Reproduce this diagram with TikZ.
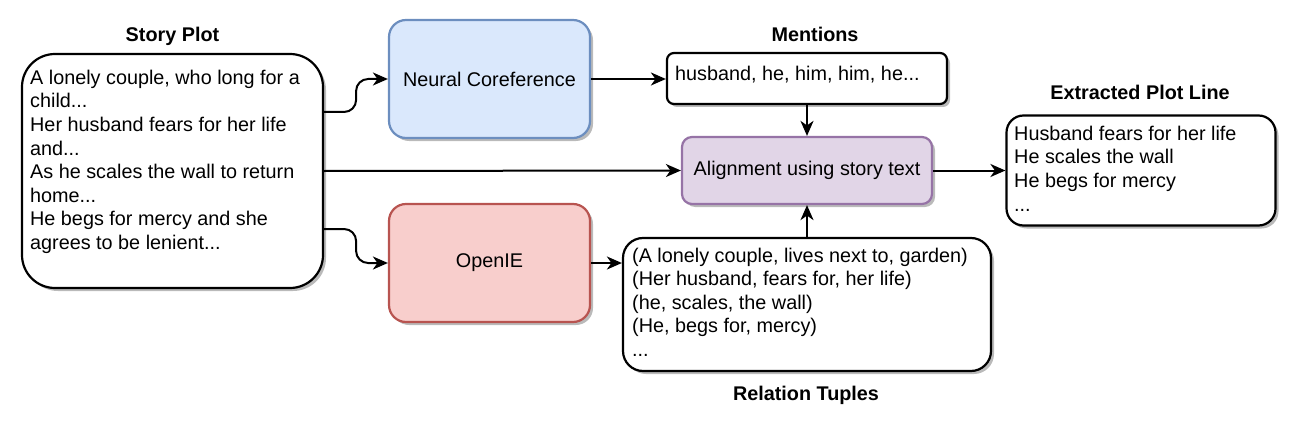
\documentclass[tikz,border=0pt]{standalone}
\usepackage{fontspec}
\setmainfont{Liberation Sans}
\usepackage{tikz}
\usetikzlibrary{arrows.meta,positioning,calc,shadows}
\definecolor{corefill}{HTML}{DAE8FC}
\definecolor{coreline}{HTML}{6C8EBF}
\definecolor{iefill}{HTML}{F8CECC}
\definecolor{ieline}{HTML}{B85450}
\definecolor{alignfill}{HTML}{E1D5E7}
\definecolor{alignline}{HTML}{9673A6}

\begin{document}
\begin{tikzpicture}[x=1pt, y=-1pt, font=\fontsize{19.8}{23.6}\selectfont,
    plotbox/.style={rectangle, draw, line width=2.2pt, fill=white, inner sep=0pt,
        drop shadow={shadow xshift=3pt, shadow yshift=-3pt, fill=black!60, opacity=.45}},
    txt/.style={inner sep=0pt, align=left, anchor=north west},
    ttl/.style={inner sep=0pt, anchor=base, font=\fontsize{19.8}{23.6}\selectfont\bfseries},
    conn/.style={line width=2pt, -{Stealth[length=15pt, width=13pt, inset=4.5pt]}}]
        \useasboundingbox (0,0) rectangle (1308,433);

        % input story
        \node(story) [plotbox, rounded corners=33pt, minimum width=301pt, minimum height=234pt] at (172.5,171) {};
        \node(storytxt) [txt] at (30,69.7) {A lonely couple, who long for a\\child...\\Her husband fears for her life\\and...\\As he scales the wall to return\\home...\\He begs for mercy and she\\agrees to be lenient...};
        \node(storyttl) [ttl] at (172.5,42) {Story Plot};

        % the two extractors
        \node(neural) [plotbox, fill=corefill, draw=coreline, rounded corners=17pt, minimum width=201pt, minimum height=118pt] at (489.5,79) {Neural Coreference};
        \node(openie) [plotbox, fill=iefill, draw=ieline, rounded corners=17pt, minimum width=201pt, minimum height=118pt] at (489.5,263) {OpenIE};

        % their outputs
        \node(mentions) [plotbox, rounded corners=7pt, minimum width=280pt, minimum height=51pt] at (807,78.5) {};
        \node(mentionstxt) [txt] at (675,65.7) {husband, he, him, him, he...};
        \node(mentionsttl) [ttl] at (815,42) {Mentions};

        \node(relation) [plotbox, rounded corners=20pt, minimum width=368pt, minimum height=133pt] at (807,304.5) {};
        \node(relationtxt) [txt] at (632,247.6) {(A lonely couple, lives next to, garden)\\(Her husband, fears for, her life)\\(he, scales, the wall)\\(He, begs for, mercy)\\...};
        \node(relationttl) [ttl] at (806,400) {Relation Tuples};

        % alignment and result
        \node(align) [plotbox, fill=alignfill, draw=alignline, rounded corners=10pt, minimum width=250pt, minimum height=67pt] at (807,170.5) {Alignment using story text};

        \node(extracted) [plotbox, rounded corners=17pt, minimum width=269pt, minimum height=110pt] at (1141,170.5) {};
        \node(extractedtxt) [txt] at (1014,125.7) {Husband fears for her life\\He scales the wall\\He begs for mercy\\...};
        \node(extractedttl) [ttl] at (1140,100) {Extracted Plot Line};

        % connectors
        \draw[conn, rounded corners=12pt] ($(story.east)+(0,-59)$) -- ++(32,0) |- (neural.west);
        \draw[conn, rounded corners=12pt] ($(story.east)+(0,58)$) -- ++(32,0) |- (openie.west);
        \draw[conn] (story.east) -- (align.west);
        \draw[conn] (neural.east) -- (neural.east -| mentions.west);
        \draw[conn] (openie.east) -- (openie.east -| relation.west);
        \draw[conn] (mentions.south) -- (align.north);
        \draw[conn] (relation.north) -- (align.south);
        \draw[conn] (align.east) -- (align.east -| extracted.west);
\end{tikzpicture}
\end{document}
